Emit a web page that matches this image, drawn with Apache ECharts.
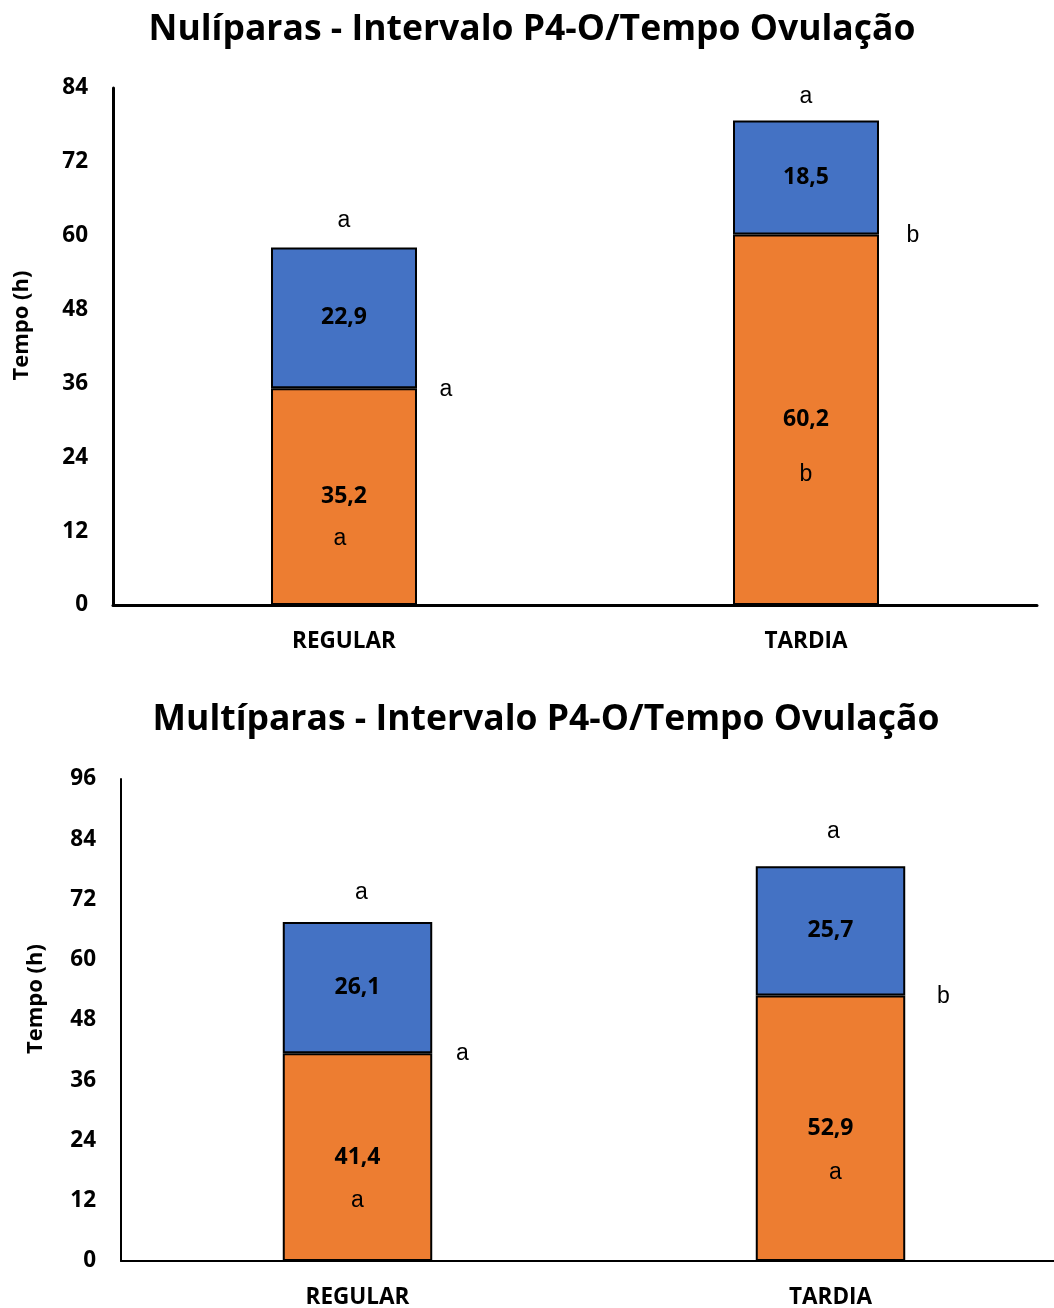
<!DOCTYPE html>
<html>
<head>
<meta charset="utf-8">
<script src="https://cdn.jsdelivr.net/npm/echarts@6/dist/echarts.min.js"></script>
<style>
  html, body { margin: 0; padding: 0; background: #fff; }
  #chart { width: 1054px; height: 1308px; }
</style>
</head>
<body>
<div id="chart"></div>
<script>
// Categories and values (hours)
const categories = ['REGULAR', 'TARDIA'];

// Nulíparas
const nuliIntervalo = [35.2, 60.2];   // intervalo P4-O (laranja)
const nuliOvulacao = [22.9, 18.5];    // tempo até ovulação (azul)
const nuliLetraInterna = ['a', 'b'];
const nuliLetraLateral = ['a', 'b'];
const nuliLetraTopo = ['a', 'a'];

// Multíparas
const multiIntervalo = [41.4, 52.9];
const multiOvulacao = [26.1, 25.7];
const multiLetraInterna = ['a', 'a'];
const multiLetraLateral = ['a', 'b'];
const multiLetraTopo = ['a', 'a'];

// Axis ranges
const nuliMax = 84, multiMax = 96, axisStep = 12;

const titles = ['Nulíparas - Intervalo P4-O/Tempo Ovulação', 'Multíparas - Intervalo P4-O/Tempo Ovulação'];

const ORANGE = '#ED7D31', BLUE = '#4472C4';
const BOLD = '"Open Sans", sans-serif';
const LETTER = '"Liberation Sans", Arial, sans-serif';

// Placement of the significance letters, per category (pixels)
const letterLayout = [
  { interna: [[-4, 42], [0, 55]], lateral: [102, 107], topo: [[0, 15], [0, 12]] },
  { interna: [[0, 44], [5, 44]], lateral: [105, 113], topo: [[4, 18], [3, 23]] }
];

const fmt = v => v.toFixed(1).replace('.', ',');

function letterSeries(idx, values, letters, labelFor) {
  return {
    type: 'scatter', xAxisIndex: idx, yAxisIndex: idx,
    symbolSize: 0, silent: true, z: 5,
    itemStyle: { opacity: 1 },
    data: values.map((v, i) => ({ value: [i, v], letter: letters[i], label: labelFor(i) })),
    label: {
      show: true, color: '#000', opacity: 1, fontFamily: LETTER, fontSize: 23,
      formatter: p => p.data.letter
    }
  };
}

function panel(idx, intervalo, ovulacao, letraInterna, letraLateral, letraTopo) {
  const L = letterLayout[idx];
  const totals = intervalo.map((v, i) => v + ovulacao[i]);
  const barLabel = {
    show: true, position: 'inside', color: '#000',
    fontFamily: BOLD, fontWeight: 'bold', fontSize: 23,
    formatter: p => fmt(p.value)
  };
  return [
    {
      type: 'bar', xAxisIndex: idx, yAxisIndex: idx, stack: 'total' + idx,
      barWidth: '31.6%', data: intervalo,
      itemStyle: { color: ORANGE, borderColor: '#000', borderWidth: 2 },
      label: barLabel
    },
    {
      type: 'bar', xAxisIndex: idx, yAxisIndex: idx, stack: 'total' + idx,
      barWidth: '31.6%', data: ovulacao,
      itemStyle: { color: BLUE, borderColor: '#000', borderWidth: 2 },
      label: barLabel
    },
    letterSeries(idx, intervalo.map(v => v / 2), letraInterna,
      i => ({ position: 'inside', offset: L.interna[i] })),
    letterSeries(idx, intervalo, letraLateral,
      i => ({ position: 'inside', offset: [L.lateral[i], 1] })),
    letterSeries(idx, totals, letraTopo,
      i => ({ position: 'top', offset: [L.topo[i][0], 0], distance: L.topo[i][1] }))
  ];
}

function yAxis(idx, max, lineWidth) {
  return {
    type: 'value', gridIndex: idx, min: 0, max: max, interval: axisStep,
    name: 'Tempo (h)', nameLocation: 'middle', nameGap: idx === 0 ? 80 : 74,
    nameTextStyle: { fontFamily: BOLD, fontWeight: 'bold', fontSize: 22, color: '#000', padding: [0, 0, 0, 42] },
    axisLine: { show: true, lineStyle: { color: '#000', width: lineWidth } },
    axisTick: { show: false },
    splitLine: { show: false },
    axisLabel: { fontFamily: BOLD, fontWeight: 'bold', fontSize: 22.5, color: '#000', margin: 25 }
  };
}

function xAxis(idx, lineWidth) {
  return {
    type: 'category', gridIndex: idx, data: categories,
    axisLine: { lineStyle: { color: '#000', width: lineWidth } },
    axisTick: { show: false },
    axisLabel: { fontFamily: BOLD, fontWeight: 'bold', fontSize: 22.5, color: '#000', margin: 25 }
  };
}

const chart = echarts.init(document.getElementById('chart'), null, { renderer: 'canvas' });
chart.setOption({
  backgroundColor: '#fff',
  animation: false,
  title: [
    { text: titles[0], left: 527, textAlign: 'center', top: 7,
      textStyle: { fontFamily: BOLD, fontWeight: 'bold', fontSize: 35.5, color: '#000' } },
    { text: titles[1], left: 541, textAlign: 'center', top: 697,
      textStyle: { fontFamily: BOLD, fontWeight: 'bold', fontSize: 35.5, color: '#000' } }
  ],
  grid: [
    { left: 113, width: 924, top: 88, height: 517, containLabel: false, outerBoundsMode: 'none' },
    { left: 121, width: 946, top: 779, height: 482, containLabel: false, outerBoundsMode: 'none' }
  ],
  xAxis: [xAxis(0, 3), xAxis(1, 2)],
  yAxis: [yAxis(0, nuliMax, 3), yAxis(1, multiMax, 2)],
  series: [
    ...panel(0, nuliIntervalo, nuliOvulacao, nuliLetraInterna, nuliLetraLateral, nuliLetraTopo),
    ...panel(1, multiIntervalo, multiOvulacao, multiLetraInterna, multiLetraLateral, multiLetraTopo)
  ]
});
</script>
</body>
</html>
